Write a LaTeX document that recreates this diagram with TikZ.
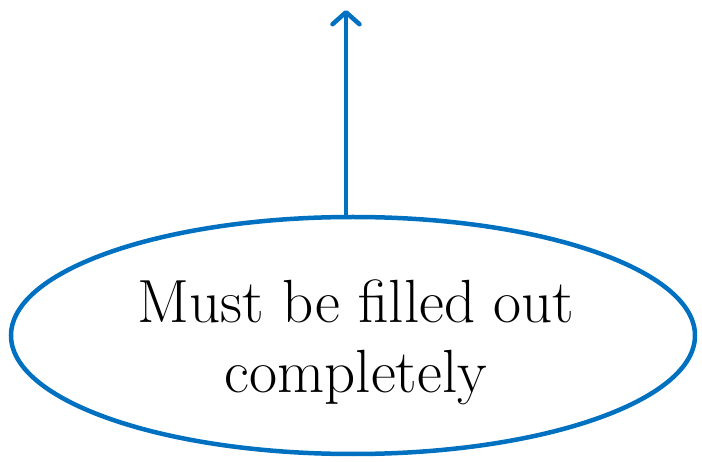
\documentclass[tikz,border=0pt]{standalone}
\usetikzlibrary{arrows.meta,shapes.geometric}
\definecolor{goalblue}{RGB}{0,112,192}
\tikzset{
  goal/.style={ellipse,draw=goalblue,line width=4.5pt,minimum width=684pt,minimum height=237pt,inner sep=0pt},
  goaltext/.style={align=center,inner sep=0pt,font=\fontsize{61}{70}\selectfont},
  uparrow/.style={draw=goalblue,line width=4.5pt,line cap=round,-{Straight Barb[length=12pt,width=27pt,line cap=round,line join=round]}}
}
\begin{document}
\begin{tikzpicture}[x=1pt,y=-1pt]
\useasboundingbox (0,0) rectangle (702,462);
\node[goal] (oval) at (353,335.5) {};
\node[goaltext] (label) at (356,342.3) {Must be filled out\\completely};
\coordinate (tip) at (346,10);
\draw[uparrow] (oval.north -| tip) -- (tip);
\end{tikzpicture}
\end{document}
